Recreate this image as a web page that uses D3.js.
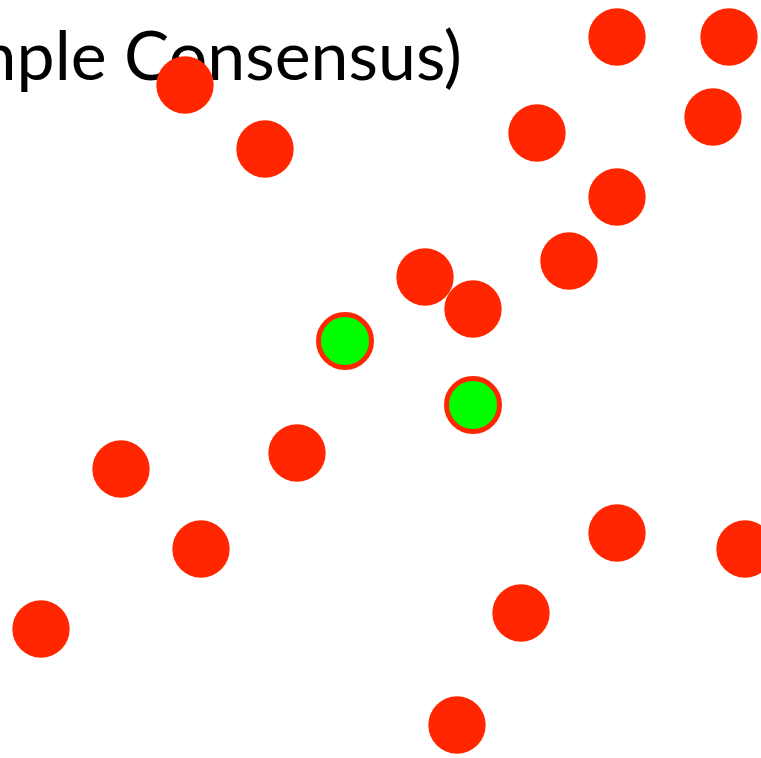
<!DOCTYPE html>
<html><head><meta charset="utf-8">
<script src="https://cdn.jsdelivr.net/npm/d3@7"></script>
<style>html,body{margin:0;padding:0;background:#fff;overflow:hidden}</style>
</head><body>
<script>
const titleText = "RANSAC (RANdom SAmple Consensus)";
const outlierX = [11,16,38,45,33,44,38,35,26,29,7,18,12,38,46,32,2,28];
const outlierY = [5,9,2,2,8,7,12,16,17,19,29,28,34,33,34,38,39,45];
const inlierX = [21,29];
const inlierY = [21,25];

const W = 761, H = 758;
const svg = d3.select("body").append("svg").attr("width", W).attr("height", H);
const x = d3.scaleLinear().domain([0, 47]).range([9, 9 + 16*47]);
const y = d3.scaleLinear().domain([0, 47]).range([5, 5 + 16*47]);

svg.append("text").attr("x", 462).attr("y", 80).attr("text-anchor", "end")
  .attr("font-family", "Lato, 'Open Sans', sans-serif").attr("font-size", 68)
  .attr("fill", "#000").text(titleText);

const red = "#ff2600";
svg.selectAll("circle.out").data(d3.zip(outlierX, outlierY)).join("circle")
  .attr("class", "out").attr("cx", d => x(d[0])).attr("cy", d => y(d[1]))
  .attr("r", 28.7).attr("fill", red);
svg.selectAll("circle.in").data(d3.zip(inlierX, inlierY)).join("circle")
  .attr("class", "in").attr("cx", d => x(d[0])).attr("cy", d => y(d[1]))
  .attr("r", 26.5).attr("fill", "#00ff00").attr("stroke", red).attr("stroke-width", 5);
</script>
</body></html>
